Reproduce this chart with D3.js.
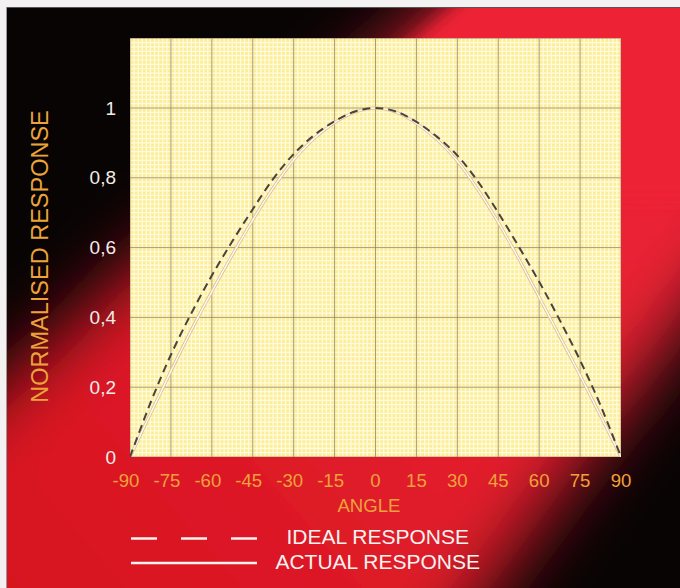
<!DOCTYPE html>
<html>
<head>
<meta charset="utf-8">
<script src="https://cdn.jsdelivr.net/npm/d3@7"></script>
<style>
  html, body { margin: 0; padding: 0; background: #f3f1f1; }
  svg { display: block; }
  text { font-family: "Liberation Sans", Arial, Helvetica, sans-serif; }
</style>
</head>
<body>
<div id="chart"></div>
<script>
// ---- data ----
const angles = [-90, -82.5, -75, -67.5, -60, -52.5, -45, -37.5, -30, -22.5, -15, -7.5, 0,
                7.5, 15, 22.5, 30, 37.5, 45, 52.5, 60, 67.5, 75, 82.5, 90];
const idealResponse = [0, 0.155, 0.293, 0.412, 0.52, 0.618, 0.71, 0.797, 0.868, 0.922, 0.962, 0.99, 1.0,
                       0.99, 0.96, 0.918, 0.864, 0.79, 0.70, 0.603, 0.502, 0.393, 0.277, 0.148, 0];
const actualResponse = [0, 0.124, 0.246, 0.364, 0.474, 0.579, 0.679, 0.771, 0.851, 0.913, 0.958, 0.988, 1.0,
                        0.988, 0.956, 0.91, 0.848, 0.766, 0.672, 0.568, 0.458, 0.346, 0.234, 0.118, 0];
const xTicks = [-90, -75, -60, -45, -30, -15, 0, 15, 30, 45, 60, 75, 90];
const yTicks = [0, 0.2, 0.4, 0.6, 0.8, 1];
const yTickLabels = ["0", "0,2", "0,4", "0,6", "0,8", "1"];
const xTitle = "ANGLE";
const yTitle = "NORMALISED RESPONSE";
const legendLabels = ["IDEAL RESPONSE", "ACTUAL RESPONSE"];

// ---- layout ----
const W = 680, H = 588;
const svg = d3.select("#chart").append("svg").attr("width", W).attr("height", H);
const defs = svg.append("defs");

const x = d3.scaleLinear().domain([-90, 90]).range([130, 621]);
const y = d3.scaleLinear().domain([0, 1.2]).range([457, 38.2]);

// background panel
defs.append("clipPath").attr("id", "panelClip")
  .append("rect").attr("x", 6).attr("y", 7).attr("width", W - 6).attr("height", H - 7);
defs.append("filter").attr("id", "blurSoft").attr("x", "-50%").attr("y", "-50%").attr("width", "200%").attr("height", "200%")
  .append("feGaussianBlur").attr("stdDeviation", 36);
defs.append("filter").attr("id", "blurSharp").attr("x", "-50%").attr("y", "-50%").attr("width", "200%").attr("height", "200%")
  .append("feGaussianBlur").attr("stdDeviation", 9);
const rg = defs.append("linearGradient").attr("id", "redGrad")
  .attr("gradientUnits", "userSpaceOnUse").attr("x1", 680).attr("y1", 0).attr("x2", 0).attr("y2", 588);
rg.append("stop").attr("offset", 0).attr("stop-color", "#f0263a");
rg.append("stop").attr("offset", 1).attr("stop-color", "#d6141f");

svg.append("rect").attr("x", 0).attr("y", 0).attr("width", W).attr("height", H).attr("fill", "#f3f1f1");
const panel = svg.append("g").attr("clip-path", "url(#panelClip)");
panel.append("rect").attr("x", 6).attr("y", 7).attr("width", W - 6).attr("height", H - 7).attr("fill", "#080404");
panel.append("path")
  .attr("d", "M681,-200 L1070,-200 L334,800 L-482,800 Z")
  .attr("fill", "url(#redGrad)").attr("filter", "url(#blurSoft)");
panel.append("path")
  .attr("d", "M695,-200 L1100,-200 L1100,200 L228,200 Z")
  .attr("fill", "#ee2436").attr("filter", "url(#blurSharp)");
svg.append("line").attr("x1", 6).attr("x2", W).attr("y1", 7.5).attr("y2", 7.5).attr("stroke", "#555").attr("stroke-width", 1);
svg.append("line").attr("x1", 6.5).attr("x2", 6.5).attr("y1", 7).attr("y2", H).attr("stroke", "#999").attr("stroke-width", 1);

// plot area
const x0 = x(-90), x1 = x(90), yTop = y(1.2), yBot = y(0);
defs.append("clipPath").attr("id", "plotClip")
  .append("rect").attr("x", x0).attr("y", yTop).attr("width", x1 - x0).attr("height", yBot - yTop);
const plot = svg.append("g").attr("clip-path", "url(#plotClip)");
plot.append("rect").attr("x", x0).attr("y", yTop).attr("width", x1 - x0).attr("height", yBot - yTop).attr("fill", "#fcee98");

// fine graph-paper grid
const minorX = d3.range(-90, 90.01, 1.5);
const minorY = d3.range(0, 1.2001, 0.0125);
plot.append("g").selectAll("line").data(minorX).join("line")
  .attr("x1", d => x(d)).attr("x2", d => x(d)).attr("y1", yTop).attr("y2", yBot)
  .attr("stroke", "#fffbe0").attr("stroke-width", 1.2);
plot.append("g").selectAll("line").data(minorY).join("line")
  .attr("y1", d => y(d)).attr("y2", d => y(d)).attr("x1", x0).attr("x2", x1)
  .attr("stroke", "#fffbe0").attr("stroke-width", 1.2);

// major grid
plot.append("g").selectAll("line").data(xTicks).join("line")
  .attr("x1", d => x(d)).attr("x2", d => x(d)).attr("y1", yTop).attr("y2", yBot)
  .attr("stroke", "#8e7b55").attr("stroke-width", 1).attr("stroke-opacity", 0.75);
plot.append("g").selectAll("line").data(d3.range(0, 1.2001, 0.2)).join("line")
  .attr("y1", d => y(d)).attr("y2", d => y(d)).attr("x1", x0).attr("x2", x1)
  .attr("stroke", "#8e7b55").attr("stroke-width", 1).attr("stroke-opacity", 0.75);

// curves
const line = d3.line().x(d => x(d[0])).y(d => y(d[1])).curve(d3.curveCatmullRom.alpha(0.5));
const actualPts = angles.map((a, i) => [a, actualResponse[i]]);
const idealPts = angles.map((a, i) => [a, idealResponse[i]]);
plot.append("path").datum(actualPts).attr("d", line)
  .attr("fill", "none").attr("stroke", "#dcbd92").attr("stroke-width", 3);
plot.append("path").datum(actualPts).attr("d", line)
  .attr("fill", "none").attr("stroke", "#fffaf0").attr("stroke-width", 1.4);
plot.append("path").datum(idealPts).attr("d", line)
  .attr("fill", "none").attr("stroke", "#4a433c").attr("stroke-width", 2)
  .attr("stroke-dasharray", "8,5");

// axes labels
const orange = "#f0a23a";
svg.append("g").selectAll("text").data(xTicks).join("text")
  .attr("x", d => x(d) + (d < 0 ? -4 : 0)).attr("y", 487)
  .attr("text-anchor", "middle").attr("font-size", 18.6).attr("fill", orange)
  .text(d => String(d));
svg.append("g").selectAll("text").data(yTicks).join("text")
  .attr("x", 116).attr("y", d => y(d)).attr("dy", "0.35em")
  .attr("text-anchor", "end").attr("font-size", 19).attr("fill", "#f3ece8")
  .text((d, i) => yTickLabels[i]);
svg.append("text").attr("x", 369).attr("y", 511.5).attr("text-anchor", "middle")
  .attr("font-size", 18.6).attr("fill", orange).text(xTitle);
svg.append("text").attr("transform", "translate(48.3,256.5) rotate(-90)")
  .attr("text-anchor", "middle").attr("font-size", 23.5).attr("fill", "#eca33a").text(yTitle);

// legend
const legendLine = "#f7f1ee";
svg.append("line").attr("x1", 131).attr("x2", 257).attr("y1", 538.5).attr("y2", 538.5)
  .attr("stroke", legendLine).attr("stroke-width", 2.5).attr("stroke-dasharray", "26,24");
svg.append("line").attr("x1", 131).attr("x2", 257).attr("y1", 563).attr("y2", 563)
  .attr("stroke", legendLine).attr("stroke-width", 2.5);
svg.append("g").selectAll("text").data(legendLabels).join("text")
  .attr("x", 377.7).attr("y", (d, i) => 544 + i * 25.3)
  .attr("text-anchor", "middle").attr("font-size", 21).attr("fill", "#f8f2f0")
  .text(d => d);
</script>
</body>
</html>
